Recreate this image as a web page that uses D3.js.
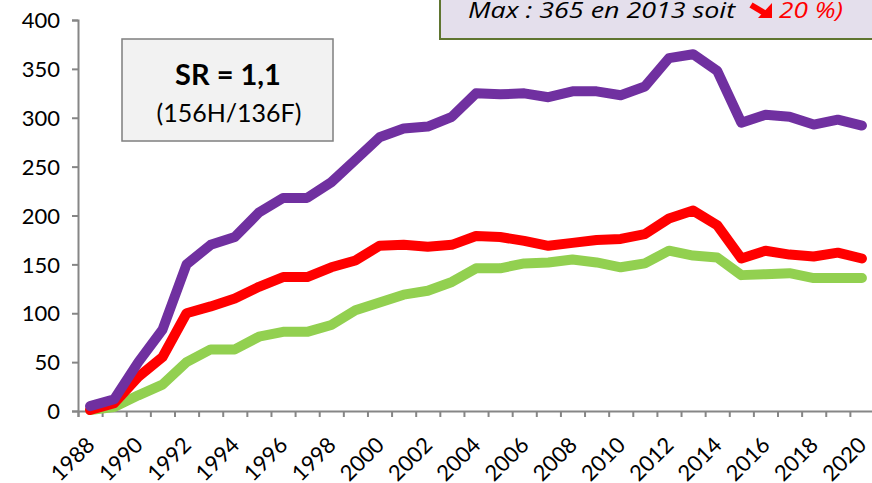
<!DOCTYPE html>
<html>
<head>
<meta charset="utf-8">
<script src="https://cdn.jsdelivr.net/npm/d3@7"></script>
<style>
  body { margin: 0; background: #fff; }
  text { font-family: Lato, "Open Sans", sans-serif; fill: #000; }
</style>
</head>
<body>
<div id="chart"></div>
<script>
// Years (categories)
var years = d3.range(1988, 2021);

// Series values
var total = [5, 12, 50, 83, 150, 170, 178, 203, 218, 218, 234, 257, 280, 289, 291, 301,
             325, 324, 325, 321, 327, 327, 323, 332, 361, 365, 348, 295, 303, 301, 293, 298, 292];
var hommes = [1, 8, 35, 55, 100, 107, 115, 127, 137, 137, 147, 154, 169, 170, 168, 170,
              179, 178, 174, 169, 172, 175, 176, 181, 197, 205, 190, 156, 164, 160, 158, 162, 156];
var femmes = [1, 4, 16, 27, 50, 63, 63, 76, 81, 81, 88, 103, 111, 119, 123, 132,
              146, 146, 151, 152, 155, 152, 147, 151, 164, 159, 157, 139, 140, 141, 136, 136, 136];

var yTicks = [0, 50, 100, 150, 200, 250, 300, 350, 400];

var width = 872, height = 483;
var margin = {top: 20, right: -2, bottom: 72, left: 78};

var svg = d3.select("#chart")
  .append("svg")
    .attr("width", width)
    .attr("height", height);

// Scales: x over category slots, y linear
var xScale = d3.scaleLinear().domain([0, years.length]).range([margin.left, width - margin.right]),
    xMid = function (d, i) { return xScale(i + 0.5); };
var yScale = d3.scaleLinear().domain([0, 400]).range([height - margin.bottom, margin.top]);

// Y axis
var yAxis = d3.axisLeft(yScale).tickValues(yTicks).tickSize(6).tickPadding(12);
var gy = svg.append("g")
  .attr("transform", "translate(" + margin.left + ",0)")
  .call(yAxis);
gy.select(".domain").attr("stroke", "#868686").attr("stroke-width", 2);
gy.selectAll(".tick line").attr("stroke", "#868686").attr("stroke-width", 2);
gy.selectAll(".tick text").style("font-size", "22px").attr("dy", "0.35em");

// X axis: ticks on slot boundaries, labels every other year rotated
var xAxis = d3.axisBottom(xScale).tickValues(d3.range(0, years.length + 1)).tickSize(6).tickFormat("");
var gx = svg.append("g")
  .attr("transform", "translate(0," + yScale(0) + ")")
  .call(xAxis);
gx.select(".domain").attr("stroke", "#868686").attr("stroke-width", 2);
gx.selectAll(".tick line").attr("stroke", "#868686").attr("stroke-width", 2);

svg.append("g").selectAll("text")
  .data(years)
  .enter().filter(function (d) { return d % 2 === 0; })
  .append("text")
    .attr("transform", function (d) {
      var i = years.indexOf(d);
      return "translate(" + (xMid(d, i) + 0.5) + "," + (yScale(0) + 30) + ") rotate(-45)";
    })
    .attr("text-anchor", "end")
    .attr("dy", "0.35em")
    .style("font-size", "22px")
    .text(function (d) { return d; });

// Lines
var line = d3.line()
  .x(function (d, i) { return xMid(d, i); })
  .y(function (d) { return yScale(d); });

var series = [
  {values: femmes, color: "#92d050"},
  {values: hommes, color: "#ff0000"},
  {values: total, color: "#7030a0"}
];

svg.append("g").selectAll("path")
  .data(series)
  .enter().append("path")
    .attr("d", function (d) { return line(d.values); })
    .attr("fill", "none")
    .attr("stroke", function (d) { return d.color; })
    .attr("stroke-width", 10)
    .attr("stroke-linejoin", "round")
    .attr("stroke-linecap", "round");

// SR box
svg.append("rect")
  .attr("x", 122).attr("y", 39).attr("width", 211).attr("height", 102)
  .attr("fill", "#f2f2f2").attr("stroke", "#7f7f7f").attr("stroke-width", 1.5);
svg.append("text")
  .attr("x", 228).attr("y", 85)
  .attr("text-anchor", "middle")
  .style("font-size", "29px").style("font-weight", "bold")
  .text("SR = 1,1");
svg.append("text")
  .attr("x", 229).attr("y", 122)
  .attr("text-anchor", "middle")
  .style("font-size", "25px")
  .text("(156H/136F)");

// Top-right note box (cut by the frame)
svg.append("rect")
  .attr("x", 440).attr("y", -20).attr("width", 450).attr("height", 59)
  .attr("fill", "#e4dfec").attr("stroke", "#5f7530").attr("stroke-width", 2);
svg.append("text")
  .attr("x", 468).attr("y", 18)
  .attr("textLength", 267).attr("lengthAdjust", "spacingAndGlyphs")
  .style("font-family", "'Open Sans', sans-serif")
  .style("font-size", "21px").style("font-style", "italic")
  .text("Max : 365 en 2013 soit");
var ax = 750;
// bold red south-east arrow
svg.append("line")
  .attr("x1", ax + 1).attr("y1", 5).attr("x2", ax + 16).attr("y2", 14)
  .attr("stroke", "#ff0000").attr("stroke-width", 6);
svg.append("path")
  .attr("d", "M" + (ax + 22) + ",3 L" + (ax + 22) + ",18 L" + (ax + 8) + ",18 Z")
  .attr("fill", "#ff0000");
svg.append("text")
  .attr("x", ax + 29).attr("y", 18)
  .attr("textLength", 64).attr("lengthAdjust", "spacingAndGlyphs")
  .style("font-family", "'Open Sans', sans-serif")
  .style("font-size", "21px").style("font-style", "italic")
  .style("fill", "#ff0000")
  .text("20 %)");
</script>
</body>
</html>
